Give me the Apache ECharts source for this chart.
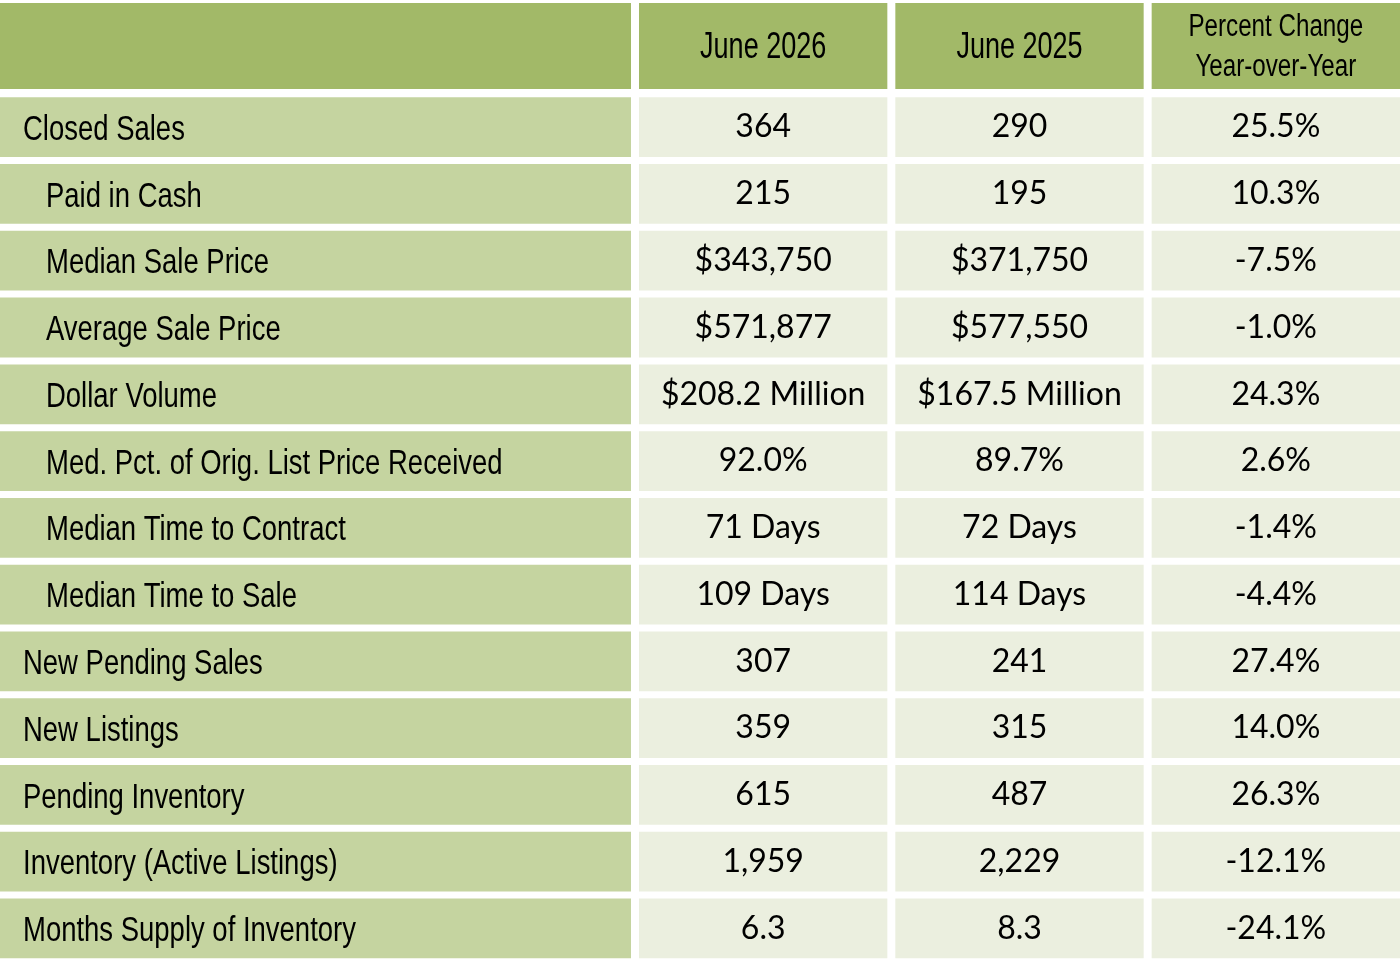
<!DOCTYPE html>
<html>
<head>
<meta charset="utf-8">
<title>June 2026 vs June 2025</title>
<script src="https://cdn.jsdelivr.net/npm/echarts@6/dist/echarts.min.js"></script>
<style>
  html, body { margin: 0; padding: 0; background: #fff; }
  #main { width: 1400px; height: 960px; }
</style>
</head>
<body>
<div id="main"></div>
<script>
// ========== 数据 ==========
const columnHeaders = ['June 2026', 'June 2025', 'Percent Change\nYear-over-Year'];
const rowLabels = [
    'Closed Sales', 'Paid in Cash', 'Median Sale Price', 'Average Sale Price',
    'Dollar Volume', 'Med. Pct. of Orig. List Price Received', 'Median Time to Contract',
    'Median Time to Sale', 'New Pending Sales', 'New Listings', 'Pending Inventory',
    'Inventory (Active Listings)', 'Months Supply of Inventory'
];
// 0 = top level, 1 = sub item of Closed Sales
const rowLevels = [0, 1, 1, 1, 1, 1, 1, 1, 0, 0, 0, 0, 0];
const june2026 = ['364', '215', '$343,750', '$571,877', '$208.2 Million', '92.0%',
    '71 Days', '109 Days', '307', '359', '615', '1,959', '6.3'];
const june2025 = ['290', '195', '$371,750', '$577,550', '$167.5 Million', '89.7%',
    '72 Days', '114 Days', '241', '315', '487', '2,229', '8.3'];
const yoyChange = ['25.5%', '10.3%', '-7.5%', '-1.0%', '24.3%', '2.6%',
    '-1.4%', '-4.4%', '27.4%', '14.0%', '26.3%', '-12.1%', '-24.1%'];

// ========== 样式 ==========
const HEAD_BG = '#a2b968';
const LABEL_BG = '#c5d4a0';
const CELL_BG = '#ebefdf';
// 窄体字：用 Liberation Sans 横向压缩模拟
const NARROW = "'Liberation Sans', Arial, sans-serif";
const BODY_FONT = "Lato, 'Liberation Sans', sans-serif";

const bodyCols = [june2026, june2025, yoyChange];
const rowIdx = rowLabels.map((_, i) => i);

// opts: fill, padL / padT (白色分隔线只留在左侧和上侧), text(i), textStyle(i)
function makeRender(opts) {
    return function (params, api) {
        const c = api.coord([api.value(0), api.value(1)]);
        const s = api.size([1, 1]);
        const x0 = c[0] - s[0] / 2 + opts.padL;
        const y0 = c[1] - s[1] / 2 + opts.padT;
        const w = s[0] - opts.padL, h = s[1] - opts.padT;
        const children = [{
            type: 'rect',
            shape: { x: x0, y: y0, width: w, height: h },
            style: { fill: opts.fill }
        }];
        if (opts.text) {
            const i = params.dataIndex;
            const ts = opts.textStyle(i);
            const left = ts.align === 'left';
            children.push({
                type: 'text',
                x: left ? x0 + 23 + (ts.indent || 0) * 23 : x0 + w / 2,
                y: y0 + h / 2 + (ts.dy || 0),
                scaleX: ts.scaleX || 1,
                style: {
                    text: opts.text(i), fill: '#000',
                    font: ts.font,
                    align: left ? 'left' : 'center',
                    verticalAlign: 'middle',
                    lineHeight: ts.lineHeight
                }
            });
        }
        return { type: 'group', children: children };
    };
}

const headCells = columnHeaders.map((_, i) => [i, 0]);
const bodyCells = [];
const bodyText = [];
bodyCols.forEach((col, ci) => col.forEach((v, ri) => { bodyCells.push([ci, ri]); bodyText.push(v); }));

const chart = echarts.init(document.getElementById('main'), null, { renderer: 'canvas' });
const hidden = { show: false };
chart.setOption({
    backgroundColor: '#fff',
    animation: false,
    grid: [
        { left: 0, top: 0, width: 631, height: 89 },
        { left: 631, top: 0, width: 769, height: 89 },
        { left: 0, top: 90.3, width: 631, height: 868 },
        { left: 631, top: 90.3, width: 769, height: 868 }
    ],
    xAxis: [
        { type: 'category', gridIndex: 0, data: [''], ...hidden },
        { type: 'category', gridIndex: 1, data: columnHeaders, ...hidden },
        { type: 'category', gridIndex: 2, data: ['label'], ...hidden },
        { type: 'category', gridIndex: 3, data: columnHeaders, ...hidden }
    ],
    yAxis: [
        { type: 'category', gridIndex: 0, data: ['head'], inverse: true, ...hidden },
        { type: 'category', gridIndex: 1, data: ['head'], inverse: true, ...hidden },
        { type: 'category', gridIndex: 2, data: rowLabels, inverse: true, ...hidden },
        { type: 'category', gridIndex: 3, data: rowLabels, inverse: true, ...hidden }
    ],
    series: [
        {
            type: 'custom', xAxisIndex: 0, yAxisIndex: 0, data: [[0, 0]],
            renderItem: makeRender({ fill: HEAD_BG, padL: 0, padT: 3 })
        },
        {
            type: 'custom', xAxisIndex: 1, yAxisIndex: 1, data: headCells,
            renderItem: makeRender({
                fill: HEAD_BG, padL: 8, padT: 3,
                text: i => columnHeaders[i],
                // 两行表头字号略小
                textStyle: i => columnHeaders[i].indexOf('\n') >= 0
                    ? { font: '31px ' + NARROW, scaleX: 0.78, lineHeight: 40, dy: 1 }
                    : { font: '37px ' + NARROW, scaleX: 0.73, dy: 2 }
            })
        },
        {
            type: 'custom', xAxisIndex: 2, yAxisIndex: 2, data: rowIdx.map(i => [0, i]),
            renderItem: makeRender({
                fill: LABEL_BG, padL: 0, padT: 7,
                text: i => rowLabels[i],
                textStyle: i => ({ font: '35px ' + NARROW, scaleX: 0.785, align: 'left',
                    indent: rowLevels[i], dy: 3 })
            })
        },
        {
            type: 'custom', xAxisIndex: 3, yAxisIndex: 3, data: bodyCells,
            renderItem: makeRender({
                fill: CELL_BG, padL: 8, padT: 7,
                text: i => bodyText[i],
                textStyle: () => ({ font: '32px ' + BODY_FONT, dy: 0 })
            })
        }
    ]
});
</script>
</body>
</html>
